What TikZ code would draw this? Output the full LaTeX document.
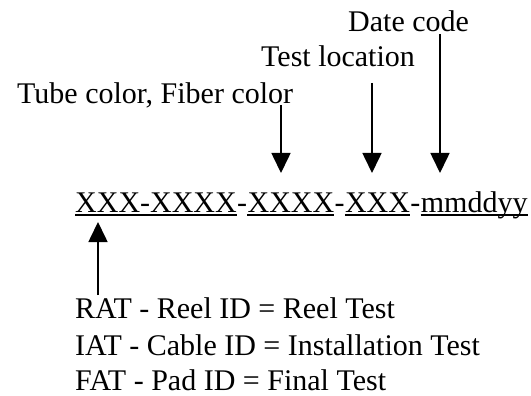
\documentclass[tikz,border=0pt]{standalone}
\usepackage{fontspec}
\setmainfont{Liberation Serif}
\usetikzlibrary{arrows.meta}
\usetikzlibrary {positioning}
\tikzset{label text/.style={anchor=base west,inner sep=0pt,text depth=0pt,font=\fontsize{30}{36.5}\selectfont}}
\tikzset{pointer/.style={line width=1.6pt,-{Triangle[length=20pt,width=19pt]}}}
\tikzset{uline/.style={line width=1.2pt}}

\begin{document}
\begin{tikzpicture}[x=1pt,y=-1pt]
    \useasboundingbox (0,0) rectangle (531,396);
    	\node[label text] (top_{1}) at (17,103) {Tube color, Fiber color};
    	\node[label text] (top_{2}) at (261,67) {Test location};
    	\node[label text] (top_{3}) at (348,32) {Date code};

    	\node[label text] (c_{1}) at (75,212) {XXX-XXXX};
    	\node[label text] (h_{1}) at (c_{1}.base east) {-};
    	\node[label text] (c_{2}) at (h_{1}.base east) {XXXX};
    	\node[label text] (h_{2}) at (c_{2}.base east) {-};
    	\node[label text] (c_{3}) at (h_{2}.base east) {XXX};
    	\node[label text] (h_{3}) at (c_{3}.base east) {-};
    	\node[label text] (c_{4}) at (h_{3}.base east) {mmddyy};

    	\node[label text] (b_{1}) at (75,318.5) {RAT - Reel ID = Reel Test};
    	\node[label text] (b_{2}) at (75,355) {IAT - Cable ID = Installation Test};
    	\node[label text] (b_{3}) at (75,390.5) {FAT - Pad ID = Final Test};

    	\draw[uline] ([yshift=-3pt]c_{1}.base west) -- ([yshift=-3pt]c_{1}.base east);
    	\draw[uline] ([yshift=-3pt]c_{2}.base west) -- ([yshift=-3pt]c_{2}.base east);
    	\draw[uline] ([yshift=-3pt]c_{3}.base west) -- ([yshift=-3pt]c_{3}.base east);
    	\draw[uline] ([yshift=-3pt]c_{4}.base west) -- ([yshift=-3pt]c_{4}.base east);

    	\coordinate (s_{1}) at (281,105);
    	\coordinate (e_{1}) at (281,173);
    	\coordinate (s_{2}) at (372,83);
    	\coordinate (e_{2}) at (372,173);
    	\coordinate (s_{3}) at (440,34);
    	\coordinate (e_{3}) at (440,173);
    	\coordinate (s_{4}) at (98,295);
    	\coordinate (e_{4}) at (98,222);
    	\draw[pointer] (s_{1}) -- (e_{1});
    	\draw[pointer] (s_{2}) -- (e_{2});
    	\draw[pointer] (s_{3}) -- (e_{3});
    	\draw[pointer] (s_{4}) -- (e_{4});
    \end{tikzpicture}
\end{document}
